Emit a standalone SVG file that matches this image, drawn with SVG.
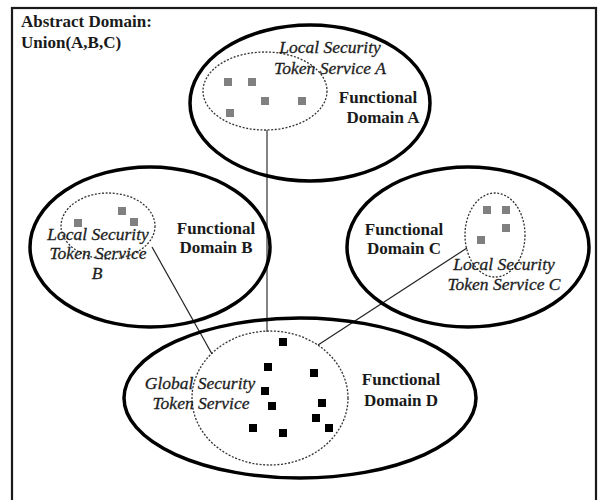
<svg xmlns="http://www.w3.org/2000/svg" width="606" height="500" viewBox="0 0 606 500">
  <style>
    .frame { fill: #ffffff; stroke: #1a1a1a; stroke-width: 2.2; }
    .domain { fill: none; stroke: #000000; stroke-width: 3.5; }
    .sts { fill: none; stroke: #333333; stroke-width: 1.3; stroke-dasharray: 2 1.6; }
    .lbl { font-family: "Liberation Serif", "Times New Roman", serif; font-size: 17px; font-weight: bold; fill: #1a1a1a; }
    .ital { font-family: "Liberation Serif", "Times New Roman", serif; font-size: 17.5px; font-style: italic; fill: #1e1e1e; stroke: #1e1e1e; stroke-width: 0.3; }
    .tok { fill: #808080; }
    .gtok { fill: #000000; }
    .link { stroke: #222222; stroke-width: 1.2; fill: none; }
    .glink { stroke: #777777; stroke-width: 1.8; fill: none; }
  </style>

  <!-- outer abstract domain frame -->
  <g id="abstract-domain">
    <rect class="frame" x="12" y="8" width="584" height="500"/>
    <text class="lbl" x="21" y="27">Abstract Domain:</text>
    <text class="lbl" x="21" y="48">Union(A,B,C)</text>
  </g>

  <!-- connectors from the local services to the global service -->
  <g id="connectors">
    <line class="glink" x1="267" y1="130" x2="267" y2="332"/>
    <line class="link" x1="152" y1="247" x2="212" y2="354"/>
    <line class="link" x1="467" y1="248" x2="318" y2="345"/>
  </g>

  <g id="domain-a">
    <ellipse class="domain" cx="310" cy="103" rx="120" ry="78"/>
    <ellipse class="sts" cx="265" cy="91" rx="62" ry="39"/>
    <rect class="tok" x="224" y="78" width="8" height="8"/>
    <rect class="tok" x="248" y="78" width="8" height="8"/>
    <rect class="tok" x="261" y="97" width="8" height="8"/>
    <rect class="tok" x="298" y="97" width="8" height="8"/>
    <rect class="tok" x="226" y="109" width="8" height="8"/>
    <text class="ital" x="330" y="53" text-anchor="middle">Local Security</text>
    <text class="ital" x="330" y="74" text-anchor="middle">Token Service A</text>
    <text class="lbl" x="378" y="103" text-anchor="middle">Functional</text>
    <text class="lbl" x="383" y="123" text-anchor="middle">Domain A</text>
  </g>

  <g id="domain-b">
    <ellipse class="domain" cx="150" cy="247" rx="120" ry="80"/>
    <ellipse class="sts" cx="108" cy="226" rx="47" ry="33"/>
    <rect class="tok" x="118" y="207" width="8" height="8"/>
    <rect class="tok" x="74" y="219" width="8" height="8"/>
    <rect class="tok" x="130" y="218" width="8" height="8"/>
    <text class="ital" x="98" y="240" text-anchor="middle">Local Security</text>
    <text class="ital" x="98" y="259" text-anchor="middle">Token Service</text>
    <text class="ital" x="97" y="279" text-anchor="middle">B</text>
    <text class="lbl" x="216" y="234" text-anchor="middle">Functional</text>
    <text class="lbl" x="216" y="253" text-anchor="middle">Domain B</text>
  </g>

  <g id="domain-c">
    <ellipse class="domain" cx="468" cy="247" rx="121" ry="80"/>
    <ellipse class="sts" cx="495" cy="235" rx="30" ry="42"/>
    <rect class="tok" x="483" y="206" width="8" height="8"/>
    <rect class="tok" x="502" y="206" width="8" height="8"/>
    <rect class="tok" x="502" y="224" width="8" height="8"/>
    <rect class="tok" x="477" y="236" width="8" height="8"/>
    <text class="lbl" x="404" y="235" text-anchor="middle">Functional</text>
    <text class="lbl" x="404" y="254" text-anchor="middle">Domain C</text>
    <text class="ital" x="504" y="270" text-anchor="middle">Local Security</text>
    <text class="ital" x="504" y="290" text-anchor="middle">Token Service C</text>
  </g>

  <g id="domain-d">
    <ellipse class="domain" cx="300" cy="398" rx="176" ry="80"/>
    <ellipse class="sts" cx="270" cy="398" rx="78" ry="67"/>
    <rect class="gtok" x="279" y="338" width="8" height="8"/>
    <rect class="gtok" x="264" y="363" width="8" height="8"/>
    <rect class="gtok" x="310" y="369" width="8" height="8"/>
    <rect class="gtok" x="261" y="387" width="8" height="8"/>
    <rect class="gtok" x="268" y="402" width="8" height="8"/>
    <rect class="gtok" x="318" y="399" width="8" height="8"/>
    <rect class="gtok" x="312" y="414" width="8" height="8"/>
    <rect class="gtok" x="325" y="424" width="8" height="8"/>
    <rect class="gtok" x="249" y="424" width="8" height="8"/>
    <rect class="gtok" x="279" y="429" width="8" height="8"/>
    <text class="ital" x="200" y="389" text-anchor="middle">Global Security</text>
    <text class="ital" x="201" y="409" text-anchor="middle">Token Service</text>
    <text class="lbl" x="401" y="385" text-anchor="middle">Functional</text>
    <text class="lbl" x="401" y="406" text-anchor="middle">Domain D</text>
  </g>
</svg>
